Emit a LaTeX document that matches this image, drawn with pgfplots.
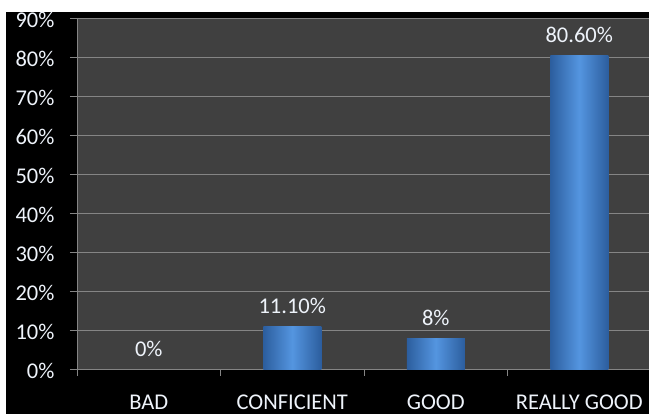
\documentclass[border=0pt]{standalone}
\usepackage{pgfplots}
\pgfplotsset{compat=1.18}
\usepackage{fontspec}
\setmainfont{Carlito}
\definecolor{plotgray}{HTML}{404040}
\definecolor{gridgray}{HTML}{858585}
\definecolor{txt}{HTML}{EEF3FA}
\definecolor{bardark}{HTML}{2C5E9E}
\definecolor{barmid}{HTML}{5495E0}
\begin{document}
\begin{tikzpicture}[x=1pt,y=1pt]
\useasboundingbox (0,0) rectangle (649,414);
\fill[white] (0,0) rectangle (649,414);
\fill[black] (6,0) rectangle (649,402);
\begin{axis}[
    at={(77pt,44pt)}, anchor=south west,
    scale only axis,
    width=572pt, height=351pt,
    xmin=-0.5, xmax=3.486,
    ymin=0, ymax=90,
    axis x line*=bottom, axis y line*=left,
    axis line style={gridgray, line width=1pt},
    axis background/.style={fill=plotgray},
    ymajorgrids,
    major grid style={gridgray, line width=1pt},
    xtick={0,1,2,3},
    xticklabels={BAD,CONFICIENT,GOOD,REALLY GOOD},
    minor xtick={-0.5,0.5,1.5,2.5},
    ytick={0,10,...,90},
    yticklabels={0\%,10\%,20\%,30\%,40\%,50\%,60\%,70\%,80\%,90\%},
    tick align=outside,
    major tick length=7pt, minor tick length=6pt,
    major x tick style={draw=none},
    minor x tick style={gridgray, line width=1pt},
    y tick style={gridgray, line width=1pt},
    tick label style={font=\fontsize{22.5}{26}\selectfont, text=txt},
    xticklabel style={anchor=center, yshift=-25pt},
    yticklabel style={anchor=east, xshift=-12pt, yshift=-1pt},
    nodes near coords,
    point meta=explicit symbolic,
    every node near coord/.append style={font=\fontsize{22.5}{26}\selectfont, text=txt, anchor=center, yshift=21pt},
    clip=false,
]
\addplot[ybar, bar width=58pt, draw=none, left color=bardark, right color=bardark, middle color=barmid]
coordinates {(0,0) [0\%]};
\addplot[ybar, bar width=58pt, draw=none, left color=bardark, right color=bardark, middle color=barmid]
coordinates {(1,11.1) [11.10\%]};
\addplot[ybar, bar width=58pt, draw=none, left color=bardark, right color=bardark, middle color=barmid]
coordinates {(2,8) [8\%]};
\addplot[ybar, bar width=58pt, draw=none, left color=bardark, right color=bardark, middle color=barmid]
coordinates {(3,80.6) [80.60\%]};
\end{axis}
\end{tikzpicture}
\end{document}
